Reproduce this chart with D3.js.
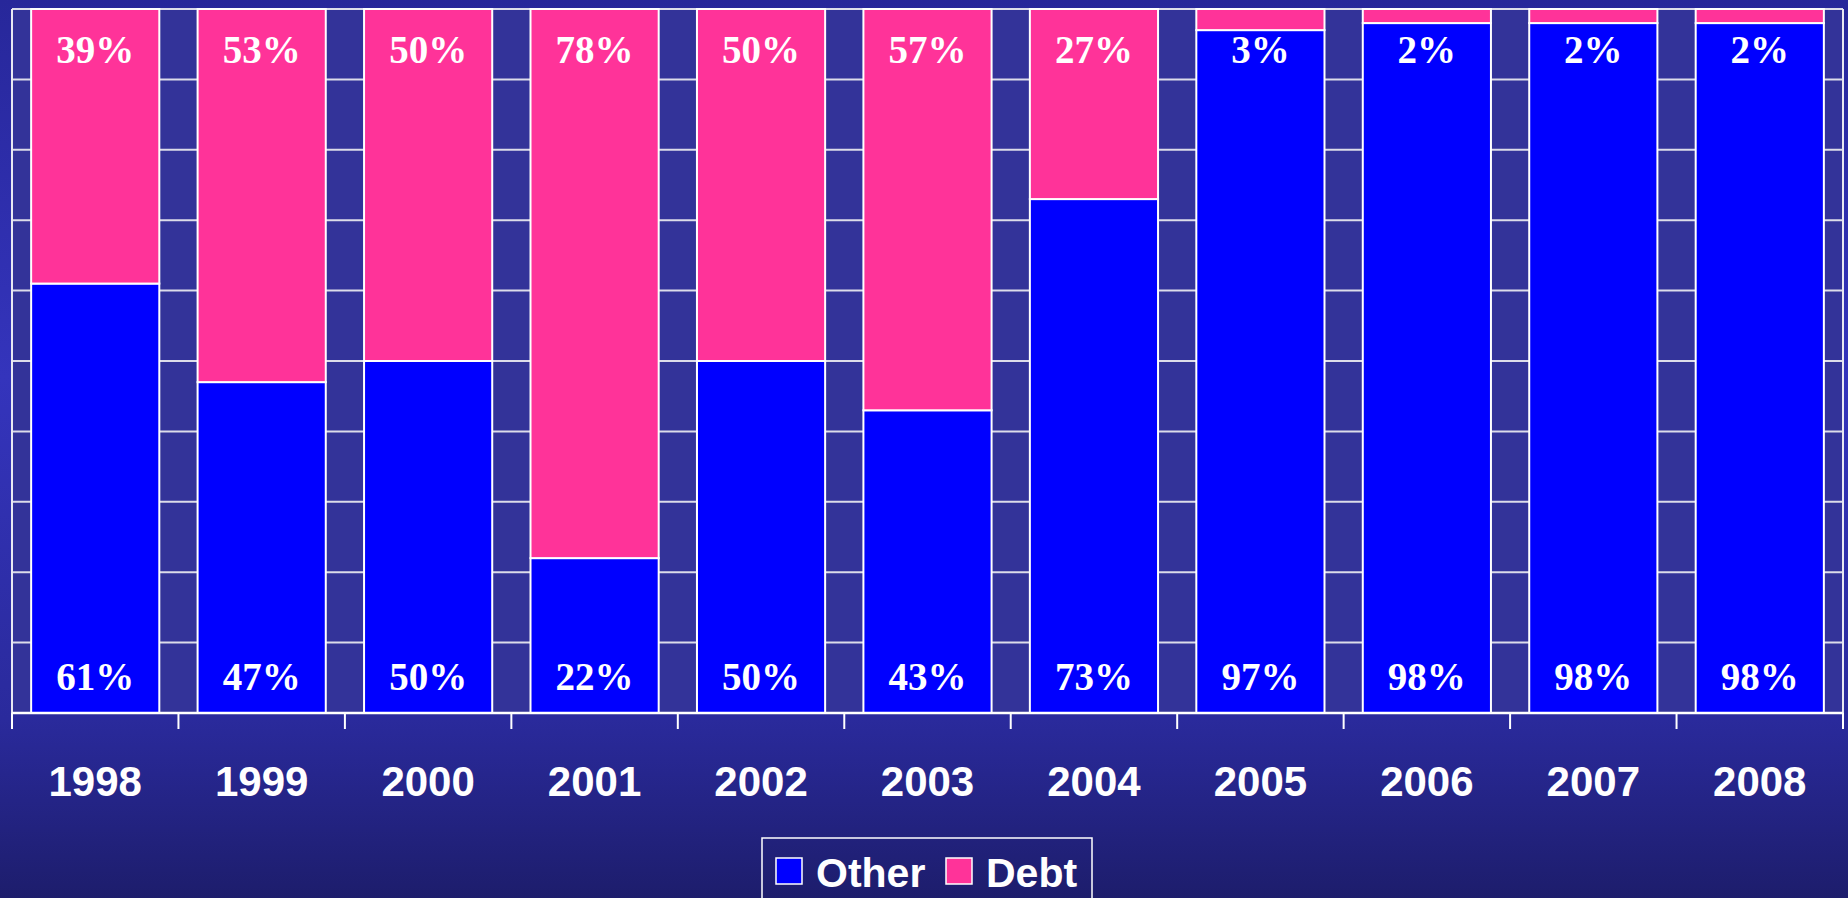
<!DOCTYPE html>
<html>
<head>
<meta charset="utf-8">
<script src="https://cdn.jsdelivr.net/npm/d3@7"></script>
<style>
  html, body { margin: 0; padding: 0; background: #22228a; overflow: hidden; }
  svg { display: block; }
</style>
</head>
<body>
<svg id="chart" width="1848" height="898"></svg>
<script>
// Share of spending by year, in percent
const years = ["1998", "1999", "2000", "2001", "2002", "2003", "2004", "2005", "2006", "2007", "2008"];
const otherPct = [61, 47, 50, 22, 50, 43, 73, 97, 98, 98, 98];
const debtPct = [39, 53, 50, 78, 50, 57, 27, 3, 2, 2, 2];
const seriesNames = ["Other", "Debt"];
const seriesColors = ["#0000ff", "#ff3399"];
const yTicks = [0, 10, 20, 30, 40, 50, 60, 70, 80, 90, 100];

const W = 1848, H = 898;
const plot = { left: 12, right: 1843, top: 9, bottom: 713 };

const svg = d3.select("#chart");

// page background
const defs = svg.append("defs");
const grad = defs.append("linearGradient")
  .attr("id", "bg").attr("x1", 0).attr("y1", 0).attr("x2", 0).attr("y2", 1);
[[0, "#27279a"], [0.42, "#3434bc"], [0.8, "#2a2a9c"], [1, "#1d1d6c"]].forEach(([o, c]) =>
  grad.append("stop").attr("offset", o).attr("stop-color", c));
svg.append("rect").attr("width", W).attr("height", H).attr("fill", "url(#bg)");

const rows = years.map((yr, i) => ({ year: yr, Other: otherPct[i], Debt: debtPct[i] }));
const stacked = d3.stack().keys(seriesNames)(rows);

const x = d3.scaleBand()
  .domain(years)
  .range([plot.left, plot.right])
  .paddingInner(0.23)
  .paddingOuter(0.115);

const y = d3.scaleLinear().domain([0, 100]).range([plot.bottom, plot.top]);

// plot area
svg.append("rect")
  .attr("x", plot.left).attr("y", plot.top)
  .attr("width", plot.right - plot.left).attr("height", plot.bottom - plot.top)
  .attr("fill", "#333399");

// horizontal gridlines
svg.append("g")
  .selectAll("line")
  .data(yTicks)
  .join("line")
  .attr("x1", plot.left).attr("x2", plot.right)
  .attr("y1", d => y(d)).attr("y2", d => y(d))
  .attr("stroke", "#dcdcea").attr("stroke-width", 2);

// plot side borders
svg.append("g").selectAll("line")
  .data([plot.left, plot.right])
  .join("line")
  .attr("x1", d => d).attr("x2", d => d)
  .attr("y1", plot.top).attr("y2", plot.bottom)
  .attr("stroke", "#e8e8f2").attr("stroke-width", 2);

// stacked bars
svg.append("g")
  .selectAll("g")
  .data(stacked)
  .join("g")
  .attr("fill", (d, i) => seriesColors[i])
  .selectAll("rect")
  .data(d => d)
  .join("rect")
  .attr("x", d => x(d.data.year))
  .attr("width", x.bandwidth())
  .attr("y", d => y(d[1]))
  .attr("height", d => y(d[0]) - y(d[1]))
  .attr("stroke", "#ffffff")
  .attr("stroke-width", 2);

// x axis with ticks on category boundaries
const xAxis = d3.axisBottom(x).tickSize(0).tickPadding(0).tickFormat("");
const axisG = svg.append("g").attr("transform", `translate(0,${plot.bottom})`).call(xAxis);
axisG.select(".domain").attr("stroke", "#ffffff").attr("stroke-width", 2.5)
  .attr("d", `M${plot.left},0H${plot.right}`);

const step = x.step();
const boundaries = d3.range(years.length + 1).map(i => plot.left + i * step);
svg.append("g").selectAll("line")
  .data(boundaries)
  .join("line")
  .attr("x1", d => d).attr("x2", d => d)
  .attr("y1", plot.bottom).attr("y2", plot.bottom + 16)
  .attr("stroke", "#ffffff").attr("stroke-width", 2);

// category labels
svg.append("g").selectAll("text")
  .data(years)
  .join("text")
  .attr("x", d => x(d) + x.bandwidth() / 2)
  .attr("y", 796)
  .attr("text-anchor", "middle")
  .attr("fill", "#ffffff")
  .style("font", "bold 42px 'Liberation Sans', Arial, sans-serif")
  .text(d => d);

// value labels
const labelFont = "bold 39px 'Liberation Serif', 'Times New Roman', serif";
const otherSeries = stacked[0], debtSeries = stacked[1];
svg.append("g").selectAll("text")
  .data(otherSeries)
  .join("text")
  .attr("x", d => x(d.data.year) + x.bandwidth() / 2)
  .attr("y", d => y(d[0]) - 23)
  .attr("text-anchor", "middle")
  .attr("fill", "#ffffff")
  .style("font", labelFont)
  .text(d => (d[1] - d[0]) + "%");

svg.append("g").selectAll("text")
  .data(debtSeries)
  .join("text")
  .attr("x", d => x(d.data.year) + x.bandwidth() / 2)
  .attr("y", d => y(d[1]) + 54)
  .attr("text-anchor", "middle")
  .attr("fill", "#ffffff")
  .style("font", labelFont)
  .text(d => (d[1] - d[0]) + "%");

// legend
const legend = svg.append("g");
legend.append("rect")
  .attr("x", 762).attr("y", 838).attr("width", 330).attr("height", 90)
  .attr("fill", "none").attr("stroke", "#ffffff").attr("stroke-width", 1.5);
const legendItems = [
  { name: seriesNames[0], color: seriesColors[0], sx: 776, tx: 816 },
  { name: seriesNames[1], color: seriesColors[1], sx: 946, tx: 986 }
];
legendItems.forEach(it => {
  legend.append("rect")
    .attr("x", it.sx).attr("y", 858).attr("width", 26).attr("height", 26)
    .attr("fill", it.color).attr("stroke", "#ffffff").attr("stroke-width", 1.5);
  legend.append("text")
    .attr("x", it.tx).attr("y", 887)
    .attr("fill", "#ffffff")
    .style("font", "bold 41px 'Liberation Sans', Arial, sans-serif")
    .text(it.name);
});
</script>
</body>
</html>
